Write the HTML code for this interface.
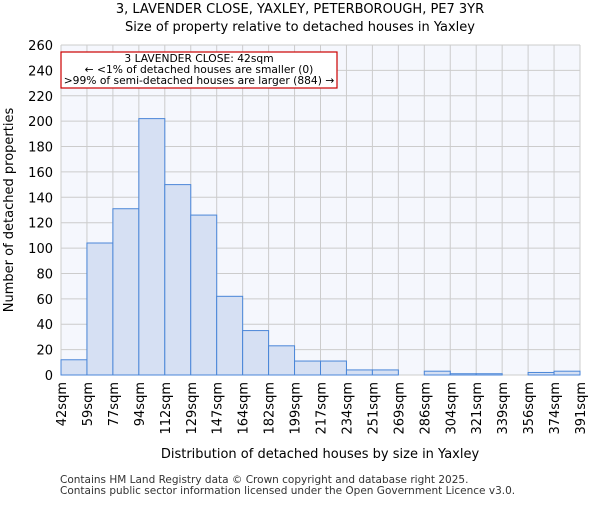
<!DOCTYPE html>
<html><head><meta charset="utf-8"><style>body{margin:0;background:#fff}svg{font-family:"DejaVu Sans","Liberation Sans",sans-serif}</style></head>
<body>
<svg width="600" height="500">
<text x="300" y="13" text-anchor="middle" font-size="13">3, LAVENDER CLOSE, YAXLEY, PETERBOROUGH, PE7 3YR</text>
<text x="300" y="31" text-anchor="middle" font-size="13">Size of property relative to detached houses in Yaxley</text>
<rect x="61" y="45" width="519" height="330" fill="#f5f7fd"/>
<g id="grid"></g><g id="bars"></g><g id="axes"></g>
<text transform="translate(13,210) rotate(-90)" text-anchor="middle" font-size="13">Number of detached properties</text>
<text x="320" y="458" text-anchor="middle" font-size="13">Distribution of detached houses by size in Yaxley</text>
<text x="60" y="483" font-size="10.5" fill="#333">Contains HM Land Registry data © Crown copyright and database right 2025.</text>
<text x="60" y="494" font-size="10.5" fill="#333">Contains public sector information licensed under the Open Government Licence v3.0.</text>
<rect x="61" y="52" width="276" height="36" fill="#fff" stroke="#c00" stroke-width="1.2"/>
<text x="199" y="62" text-anchor="middle" font-size="10.7">3 LAVENDER CLOSE: 42sqm</text>
<text x="199" y="73" text-anchor="middle" font-size="10.7">← &lt;1% of detached houses are smaller (0)</text>
<text x="199" y="84" text-anchor="middle" font-size="10.7">&gt;99% of semi-detached houses are larger (884) →</text>
</svg>
<script>
const categories=["42sqm","59sqm","77sqm","94sqm","112sqm","129sqm","147sqm","164sqm","182sqm","199sqm","217sqm","234sqm","251sqm","269sqm","286sqm","304sqm","321sqm","339sqm","356sqm","374sqm","391sqm"];
const values=[12,104,131,202,150,126,62,35,23,11,11,4,4,0,3,1,1,0,2,3];
const yTicks=[0,20,40,60,80,100,120,140,160,180,200,220,240,260];
const NS="http://www.w3.org/2000/svg";
const X0=61,X1=580,Y0=375,Y1=45,YMAX=260;
const bw=(X1-X0)/values.length;
const xs=i=>X0+i*bw, ys=v=>Y0-(v/YMAX)*(Y0-Y1);
function mk(t,a,p){const e=document.createElementNS(NS,t);for(const k in a)e.setAttribute(k,a[k]);p.appendChild(e);return e;}
const g=document.getElementById('grid'),b=document.getElementById('bars'),ax=document.getElementById('axes');
yTicks.forEach(v=>{
 const l=mk('line',{x1:X0,x2:X1,y1:ys(v),y2:ys(v),stroke:'#ccc','stroke-width':1},g);
 
 
 const t=mk('text',{x:X0-8,y:ys(v)+5,'text-anchor':'end','font-size':13},ax);
 t.textContent=v;
 
 
});
categories.forEach((c,i)=>{
 const l=mk('line',{x1:xs(i),x2:xs(i),y1:Y1,y2:Y0,stroke:'#ccc','stroke-width':1},g);
 
 
 const t=mk('text',{transform:`translate(${xs(i)+5},382) rotate(-90)`,'text-anchor':'end','font-size':13},ax);
 t.textContent=c;
 
 
});
values.forEach((v,i)=>{
 const r=mk('rect',{x:xs(i),y:ys(v),width:bw,height:Y0-ys(v),fill:'#d6e0f3',stroke:'#4a86d8','stroke-width':1},b);
 
 
});
</script>
</body></html>
